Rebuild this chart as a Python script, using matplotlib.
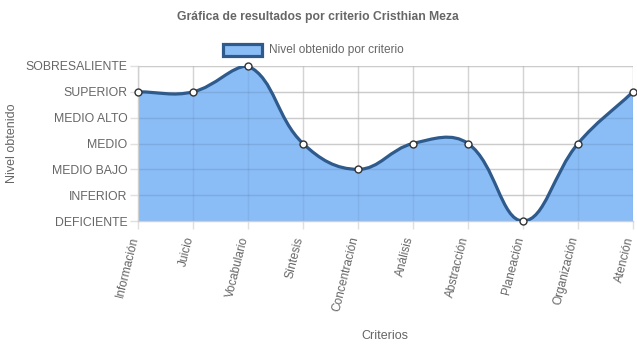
import numpy as np
import matplotlib
matplotlib.use("Agg")
import matplotlib.pyplot as plt
from matplotlib.path import Path
from matplotlib.patches import PathPatch, Rectangle

categories = ["Información", "Juicio", "Vocabulario", "Síntesis", "Concentración",
              "Análisis", "Abstracción", "Planeación", "Organización", "Atención"]
values = [5, 5, 6, 3, 2, 3, 3, 0, 3, 5]
levels = ["DEFICIENTE", "INFERIOR", "MEDIO BAJO", "MEDIO", "MEDIO ALTO", "SUPERIOR", "SOBRESALIENTE"]

title = "Gráfica de resultados por criterio Cristhian Meza"
legend_label = "Nivel obtenido por criterio"
x_title = "Criterios"
y_title = "Nivel obtenido"

fill_color = "#8abcf6"
line_color = "#2f5a8c"
text_color = "#666666"
grid_color = "#e0e0e0"

plt.rcParams['font.family'] = ['Liberation Sans', 'DejaVu Sans']

W, H = 637, 348
fig = plt.figure(figsize=(W / 100, H / 100), dpi=100)
L, R, T, B = 138, 633, 66, 221
ax = fig.add_axes([L / W, 1 - B / H, (R - L) / W, (B - T) / H])
ax.set_xlim(0, len(categories) - 1)
ax.set_ylim(0, len(levels) - 1)

# Chart.js-style bezier (tension 0.4) in pixel space
fig.canvas.draw()
xs = np.arange(len(categories))
pts = ax.transData.transform(np.column_stack([xs, values]))
tension = 0.4
n = len(pts)
cprev, cnext = [], []
for i in range(n):
    prev = pts[i - 1] if i > 0 else pts[i]
    cur = pts[i]
    nxt = pts[i + 1] if i < n - 1 else pts[i]
    d01 = np.hypot(*(cur - prev))
    d12 = np.hypot(*(nxt - cur))
    tot = d01 + d12
    s01 = d01 / tot if tot else 0
    s12 = d12 / tot if tot else 0
    cprev.append(cur - tension * s01 * (nxt - prev))
    cnext.append(cur + tension * s12 * (nxt - prev))
inv = ax.transData.inverted()
cprev = inv.transform(np.array(cprev))
cnext = inv.transform(np.array(cnext))
ymin, ymax = 0, len(levels) - 1
cprev[:, 1] = np.clip(cprev[:, 1], ymin, ymax)
cnext[:, 1] = np.clip(cnext[:, 1], ymin, ymax)

verts = [(xs[0], values[0])]
codes = [Path.MOVETO]
for i in range(n - 1):
    verts += [tuple(cnext[i]), tuple(cprev[i + 1]), (xs[i + 1], values[i + 1])]
    codes += [Path.CURVE4] * 3
line_path = Path(verts, codes)
fill_verts = verts + [(xs[-1], 0), (xs[0], 0), (xs[0], values[0])]
fill_codes = codes + [Path.LINETO, Path.LINETO, Path.CLOSEPOLY]
fill_path = Path(fill_verts, fill_codes)

ax.add_patch(PathPatch(fill_path, facecolor=fill_color, edgecolor='none', zorder=1))
ax.add_patch(PathPatch(line_path, facecolor='none', edgecolor=line_color, lw=2.3, zorder=3,
                       capstyle='round', joinstyle='round'))
ax.plot(xs, values, 'o', ms=5, mfc='white', mec='#333333', mew=1.0, zorder=4, clip_on=False)

ax.set_xticks(xs)
ax.set_xticklabels(categories, rotation=76, ha='right', va='baseline', rotation_mode='anchor',
                   fontsize=8.6, color=text_color)
ax.set_yticks(range(len(levels)))
ax.set_yticklabels(levels, fontsize=8.8, color=text_color)
ax.tick_params(axis='both', color=grid_color, length=6, width=1)
ax.tick_params(axis='y', pad=1.5)
ax.tick_params(axis='x', pad=6)
ax.grid(True, color=grid_color, lw=1, zorder=0)
ax.set_axisbelow(True)
for s in ['top', 'right']:
    ax.spines[s].set_visible(False)
for s in ['left', 'bottom']:
    ax.spines[s].set_color('#d0d0d0')
    ax.spines[s].set_linewidth(1)
# grid visible over fill like Chart.js
for y in range(len(levels)):
    ax.axhline(y, color='black', alpha=0.09, lw=1, zorder=2)
for x in xs:
    ax.axvline(x, color='black', alpha=0.05, lw=1, zorder=2)

fig.text(318 / W, 1 - 17 / H, title, ha='center', va='center', fontsize=8.7,
         fontweight='bold', color=text_color)
fig.text(385 / W, 1 - 336 / H, x_title, ha='center', va='center', fontsize=9, color=text_color)
fig.text(12 / W, 1 - 143 / H, y_title, ha='center', va='center', rotation=90, fontsize=9,
         color=text_color)

# legend
fig.patches.append(Rectangle((223 / W, 1 - 56 / H), 39 / W, 12 / H, transform=fig.transFigure,
                             facecolor=fill_color, edgecolor=line_color, lw=2.3))
fig.text(269 / W, 1 - 49.5 / H, legend_label, ha='left', va='center', fontsize=8.6, color=text_color)

fig.savefig("out.png", dpi=100)
